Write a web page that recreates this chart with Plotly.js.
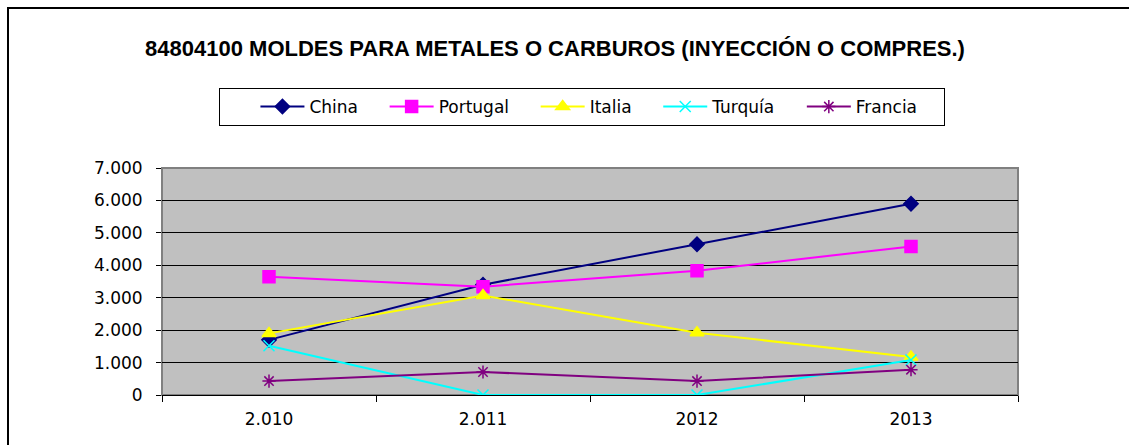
<!DOCTYPE html>
<html>
<head>
<meta charset="utf-8">
<script src="https://cdn.plot.ly/plotly-3.0.1.min.js"></script>
<style>
  body { margin: 0; background: #fff; }
  #wrap { position: relative; width: 1129px; height: 445px; overflow: hidden; }
  #frame { position: absolute; left: 7px; top: 7px; width: 1200px; height: 500px;
           border-left: 2px solid #000; border-top: 2px solid #000; pointer-events: none; }
  #graph { position: absolute; left: 0; top: 0; }
</style>
</head>
<body>
<div id="wrap">
  <div id="graph"></div>
  <div id="frame"></div>
</div>
<script>
var years = ["2.010", "2.011", "2012", "2013"];

var china = [1700, 3400, 4650, 5900];
var portugal = [3650, 3340, 3830, 4580];
var italia = [1900, 3070, 1920, 1170];
var turquia = [1520, 0, 0, 1080];
var francia = [430, 710, 430, 780];

var pad = "\u00a0\u00a0\u00a0\u00a0";

function serie(name, y, color, symbol, size) {
  return {
    x: years,
    y: y,
    name: name + pad,
    type: "scatter",
    mode: "lines+markers",
    line: { color: color, width: 2 },
    marker: { color: color, symbol: symbol, size: size, line: { color: color, width: 1.5 } }
  };
}

var data = [
  serie("China", china, "#000080", "diamond", 11),
  serie("Portugal", portugal, "#ff00ff", "square", 12),
  serie("Italia", italia, "#ffff00", "triangle-up", 12),
  serie("Turquía", turquia, "#00ffff", "x-thin-open", 11),
  serie("Francia", francia, "#800080", "asterisk-open", 11)
];

var layout = {
  width: 1129,
  height: 445,
  margin: { l: 162, r: 111, t: 168, b: 50 },
  paper_bgcolor: "rgba(0,0,0,0)",
  plot_bgcolor: "#c0c0c0",
  separators: ",.",
  font: { family: "DejaVu Sans, Verdana, sans-serif", size: 17, color: "#000" },
  title: {
    text: "<b>84804100 MOLDES PARA METALES O CARBUROS (INYECCIÓN O COMPRES.)</b>",
    font: { family: "Liberation Sans, Arial, sans-serif", size: 22, color: "#000" },
    x: 555 / 1129, xanchor: "center", xref: "container",
    y: 1 - 48 / 445, yanchor: "middle", yref: "container"
  },
  showlegend: true,
  legend: {
    orientation: "h",
    title: { text: "\u00a0\u00a0\u00a0\u00a0", side: "left" },
    x: 582 / 1129, xanchor: "center", xref: "container",
    y: 1 - 107 / 445, yanchor: "middle", yref: "container",
    bordercolor: "#000", borderwidth: 1, bgcolor: "#fff",
    itemwidth: 44,
    font: { family: "DejaVu Sans, Verdana, sans-serif", size: 17, color: "#000" }
  },
  xaxis: {
    type: "category",
    range: [-0.5, 3.5],
    tickson: "boundaries",
    ticks: "outside", ticklen: 6, tickcolor: "#000",
    showline: true, linecolor: "#000", linewidth: 1,
    showgrid: false, zeroline: false,
    ticklabelstandoff: 9,
    fixedrange: true
  },
  yaxis: {
    range: [0, 7000],
    dtick: 1000,
    tickformat: ",d",
    ticks: "outside", ticklen: 5, tickcolor: "#000",
    showline: false,
    showgrid: true, gridcolor: "#000", gridwidth: 1,
    zeroline: false,
    ticklabelstandoff: 10,
    fixedrange: true
  },
  shapes: [{
    type: "rect", xref: "paper", yref: "paper",
    x0: 0, x1: 1, y0: 0, y1: 1,
    line: { color: "#808080", width: 2 },
    layer: "below"
  }]
};

Plotly.newPlot(document.getElementById("graph"), data, layout, { staticPlot: true });
</script>
</body>
</html>
